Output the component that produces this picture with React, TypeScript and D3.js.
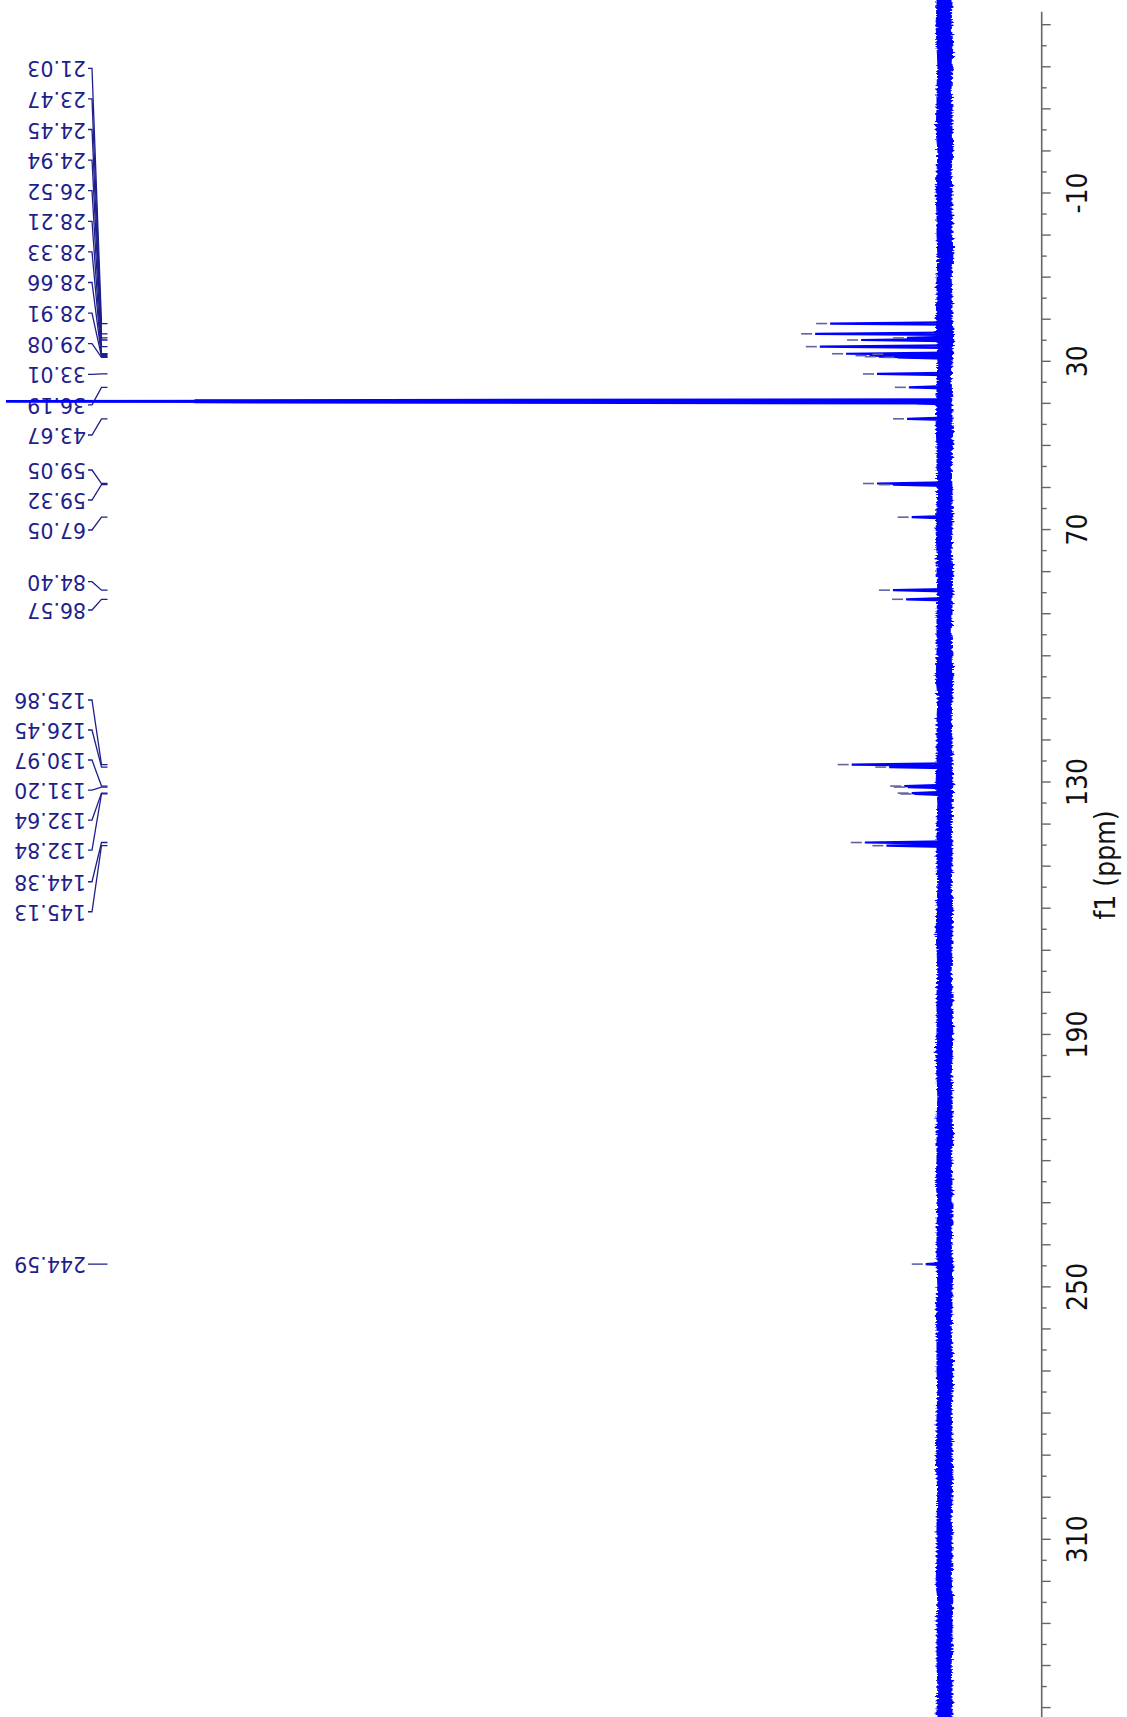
import React from 'react';
import * as d3 from 'd3';

const W = 1127;
const H = 1717;

// Picked peaks (ppm) and their heights (arbitrary intensity units)
const peakPpm = [
  21.03, 23.47, 24.45, 24.94, 26.52, 28.21, 28.33, 28.66, 28.91, 29.08, 33.01, 36.19, 43.67,
  59.05, 59.32, 67.05, 84.4, 86.57, 125.86, 126.45, 130.97, 131.2, 132.64, 132.84, 144.38,
  145.13, 244.59,
];
const peakHeight = [
  122, 138, 40, 89, 133, 105, 62, 80, 70, 50, 72, 38, 40,
  72, 55, 35, 55, 41, 99, 59, 43, 39, 35, 32, 85,
  62, 20,
];
// Position of each peak label along the ppm axis after label spreading
const labelAt = [
  -39.64, -32.37, -25.09, -17.82, -10.55, -3.27, 4.0, 11.27, 18.55, 25.82, 33.1, 40.37, 47.52,
  55.84, 62.97, 70.1, 82.39, 89.12, 110.51, 117.64, 124.77, 131.91, 139.04, 146.17, 153.71,
  160.84, 244.58,
];

// DMSO-d6 solvent multiplet (unlabelled)
const solventPpm = [39.1, 39.31, 39.52, 39.73, 39.94];
const solventHeight = [8, 800, 1300, 800, 30];

// Baseline noise envelope, one sample every 5 ppm from -60 ppm
const noiseStart = -60;
const noiseStep = 5;
const noiseHigh = [
  8, 8, 9, 8, 7, 8, 8, 9, 7, 8, 9, 8, 8, 7, 8, 8, 9, 8, 7, 8, 8, 9, 8, 8, 7, 8, 9,
  8, 8, 7, 8, 8, 8, 9, 7, 8, 8, 8, 9, 7, 8, 8, 8, 7, 8, 9, 8, 7, 8, 8, 8, 9, 8, 7,
  8, 8, 8, 9, 7, 8, 8, 8, 7, 9, 8, 8, 8, 7, 8, 8, 9, 8, 7, 8, 8, 8, 9, 7, 8, 8, 8,
  7, 8, 8,
];
const noiseLow = [
  -8, -8, -7, -9, -8, -7, -8, -8, -9, -7, -8, -8, -8, -9, -7, -8, -8, -10, -8, -7, -8,
  -8, -9, -7, -8, -8, -8, -7, -9, -8, -8, -7, -8, -9, -8, -7, -8, -8, -9, -8, -7, -8,
  -8, -7, -9, -8, -8, -7, -8, -8, -9, -8, -7, -8, -8, -9, -7, -8, -8, -8, -7, -9, -8,
  -8, -7, -8, -9, -8, -7, -8, -8, -9, -8, -7, -8, -8, -7, -9, -8, -8, -7, -8, -8, -8,
];

// Axis tick labels
const tickLabels = [-10, 30, 70, 130, 190, 250, 310];
const minorStep = 5;
const axisMin = -50;
const axisMax = 350;

const SPEC = '#0000ff';
const LABEL = '#1f1f8c';
const MARKER = '#6262a2';
const AXIS = '#666666';

export default function App() {
  // ppm runs down the page
  const y = d3.scaleLinear().domain([-10, 310]).range([193, 1539.3]);
  // intensity grows to the left from the baseline
  const x = d3.scaleLinear().domain([0, 1000]).range([944.5, 7]);

  const noiseData = noiseHigh.map((hi, i) => ({
    ppm: noiseStart + i * noiseStep,
    hi,
    lo: noiseLow[i],
  }));
  const noiseArea = d3
    .area<{ ppm: number; hi: number; lo: number }>()
    .y((d) => y(d.ppm))
    .x0((d) => x(d.lo))
    .x1((d) => x(d.hi))
    .curve(d3.curveLinear);

  const halfWidth = 0.28;
  const peakLine = d3
    .line<[number, number]>()
    .x((d) => x(d[1]))
    .y((d) => y(d[0]));
  const peakPath = (ppm: number, h: number) =>
    peakLine([
      [ppm - halfWidth, 0],
      [ppm, h],
      [ppm + halfWidth, 0],
    ]) as string;

  const ticks = d3.range(axisMin, axisMax + 0.001, minorStep);
  const axisX = 1041.7;

  const textX = 86;

  return (
    <svg
      width={W}
      height={H}
      viewBox={`0 0 ${W} ${H}`}
      style={{ position: 'absolute', left: 0, top: 0, display: 'block', background: '#fff' }}
    >
      <defs>
        <clipPath id="plotClip">
          <rect x={6} y={0} width={1000} height={H} />
        </clipPath>
        {/* ragged edge for the dense baseline trace */}
        <filter
          id="fuzz"
          filterUnits="userSpaceOnUse"
          x={900}
          y={-20}
          width={90}
          height={H + 40}
        >
          <feTurbulence
            type="fractalNoise"
            baseFrequency="0.08 0.45"
            numOctaves={2}
            seed={7}
            result="grain"
          />
          <feDisplacementMap
            in="SourceGraphic"
            in2="grain"
            scale={7}
            xChannelSelector="R"
            yChannelSelector="G"
          />
        </filter>
      </defs>

      {/* peak labels with leader lines */}
      <g>
        {peakPpm.map((p, i) => {
          const yl = y(labelAt[i]);
          const yp = y(p);
          return (
            <g key={`lab-${i}`}>
              <text
                x={textX}
                y={yl}
                transform={`rotate(180, ${textX}, ${yl})`}
                textAnchor="start"
                dominantBaseline="central"
                fontFamily="'DejaVu Sans', Verdana, sans-serif"
                fontSize={20.5}
                fill={LABEL}
              >
                {p.toFixed(2)}
              </text>
              <path
                d={`M88,${yl}L92,${yl}L101.5,${yp}L107.5,${yp}`}
                fill="none"
                stroke={LABEL}
                strokeWidth={1.3}
              />
            </g>
          );
        })}
      </g>

      {/* spectrum */}
      <g clipPath="url(#plotClip)">
        <path
          d={noiseArea(noiseData) as string}
          fill={SPEC}
          stroke={SPEC}
          strokeWidth={1}
          filter="url(#fuzz)"
        />
        {solventPpm.map((p, i) => (
          <path
            key={`sol-${i}`}
            d={peakPath(p, solventHeight[i])}
            fill="none"
            stroke={SPEC}
            strokeWidth={2.2}
          />
        ))}
        {peakPpm.map((p, i) => (
          <path
            key={`pk-${i}`}
            d={peakPath(p, peakHeight[i])}
            fill="none"
            stroke={SPEC}
            strokeWidth={2.2}
            strokeLinejoin="miter"
          />
        ))}
        {peakPpm.map((p, i) => {
          const xt = x(peakHeight[i]);
          return (
            <line
              key={`mk-${i}`}
              x1={xt - 14}
              x2={xt - 3}
              y1={y(p)}
              y2={y(p)}
              stroke={MARKER}
              strokeWidth={1.6}
            />
          );
        })}
      </g>

      {/* ppm axis */}
      <g>
        <line x1={axisX} x2={axisX} y1={y(-53.1)} y2={H} stroke={AXIS} strokeWidth={1.6} />
        {ticks.map((t) => (
          <line
            key={`t-${t}`}
            x1={axisX}
            x2={axisX + (t % 10 === 0 ? 9 : 5)}
            y1={y(t)}
            y2={y(t)}
            stroke={AXIS}
            strokeWidth={1.4}
          />
        ))}
        {tickLabels.map((t) => (
          <text
            key={`tl-${t}`}
            transform={`translate(1077, ${y(t)}) rotate(-90)`}
            textAnchor="middle"
            dominantBaseline="central"
            fontFamily="'DejaVu Sans', sans-serif"
            fontStretch="condensed"
            fontSize={28}
            fill="#111"
          >
            {t}
          </text>
        ))}
        <text
          transform={`translate(1105, 865) rotate(-90)`}
          textAnchor="middle"
          dominantBaseline="central"
          fontFamily="'DejaVu Sans', sans-serif"
          fontStretch="condensed"
          fontSize={28}
          fill="#111"
        >
          f1 (ppm)
        </text>
      </g>
    </svg>
  );
}
